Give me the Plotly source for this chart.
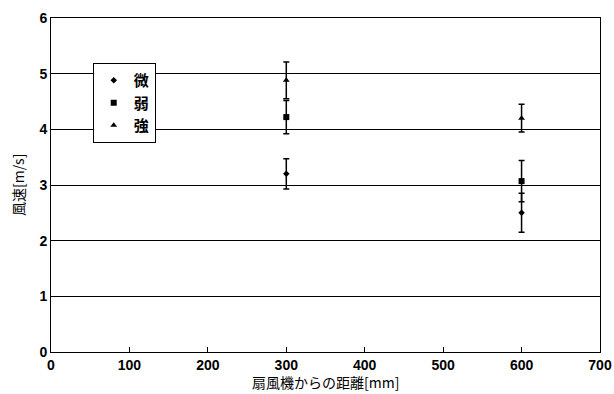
import plotly.graph_objects as go

distance = [300, 600]
series_names = ["微", "弱", "強"]
weak_vals = [3.2, 2.5]
weak_err = [0.27, 0.35]
mid_vals = [4.22, 3.07]
mid_err = [0.3, 0.37]
strong_vals = [4.88, 4.2]
strong_err = [0.33, 0.25]
x_ticks = [0, 100, 200, 300, 400, 500, 600, 700]
y_ticks = [0, 1, 2, 3, 4, 5, 6]

symbols = ["diamond", "square", "triangle-up"]
sizes = [5, 6, 6]

fig = go.Figure()
for name, vals, errs, sym, sz in zip(series_names, [weak_vals, mid_vals, strong_vals],
                                     [weak_err, mid_err, strong_err], symbols, sizes):
    fig.add_trace(go.Scatter(
        x=distance, y=vals, mode="markers", name=name,
        marker=dict(symbol=sym, size=sz, color="black"),
        error_y=dict(type="data", array=errs, visible=True, color="black",
                     thickness=1.5, width=3),
    ))

tickfont = dict(family="Liberation Sans, Arial, sans-serif", size=14, color="black", weight="bold")
titlefont = dict(family="Noto Sans CJK JP, sans-serif", size=14, color="black")

fig.update_layout(
    width=614, height=394,
    margin=dict(l=51, r=14, t=18, b=42, autoexpand=False),
    plot_bgcolor="white", paper_bgcolor="white",
    showlegend=True,
    legend=dict(x=0.076, y=0.865, xanchor="left", yanchor="top",
                bordercolor="black", borderwidth=1, bgcolor="white",
                font=dict(family="Noto Sans CJK JP, sans-serif", size=15, color="black", weight="bold"),
                itemwidth=30, tracegroupgap=0),
    xaxis=dict(range=[0, 700], tickvals=x_ticks, ticks="inside", ticklen=5,
               tickcolor="black", showgrid=False, zeroline=False, automargin=False,
               showline=True, linecolor="black", linewidth=1, mirror=True,
               tickfont=tickfont),
    yaxis=dict(range=[0, 6], tickvals=y_ticks, ticks="", showgrid=True,
               gridcolor="black", gridwidth=1.2, zeroline=False, automargin=False,
               showline=True, linecolor="black", linewidth=1, mirror=True,
               tickfont=tickfont),
    annotations=[
        dict(text="扇風機からの距離[mm]", xref="paper", yref="paper", x=0.5, y=-0.09,
             xanchor="center", yanchor="middle", showarrow=False, font=titlefont),
        dict(text="風速[m/s]", xref="paper", yref="paper", x=-0.06, y=0.5,
             xanchor="center", yanchor="middle", showarrow=False, textangle=-90,
             font=titlefont),
    ],
)

fig.write_html("out.html", config={"displayModeBar": False},
               post_script="document.body.style.margin='0';document.body.style.overflow='hidden';")
